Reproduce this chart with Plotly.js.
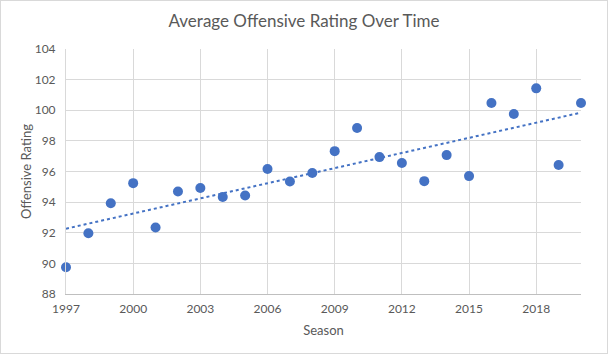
<!DOCTYPE html>
<html>
<head>
<meta charset="utf-8">
<script src="https://cdn.plot.ly/plotly-3.0.1.min.js"></script>
<style>
html,body{margin:0;padding:0;background:#fff;}
#chart{width:606px;height:352px;border:1px solid #d9d9d9;}
</style>
</head>
<body>
<div id="chart"></div>
<script>
const seasons = [1997,1998,1999,2000,2001,2002,2003,2004,2005,2006,2007,2008,2009,2010,2011,2012,2013,2014,2015,2016,2017,2018,2019,2020];
const ratings = [89.75,91.97,93.93,95.24,92.34,94.69,94.92,94.33,94.43,96.16,95.35,95.9,97.33,98.84,96.94,96.55,95.37,97.07,95.7,100.47,99.75,101.43,96.42,100.47];
const xTickVals = [1997,2000,2003,2006,2009,2012,2015,2018];
const yTickVals = [88,90,92,94,96,98,100,102,104];

// linear trendline (least squares) from the data
const n = seasons.length;
const mx = seasons.reduce((a,b)=>a+b,0)/n;
const my = ratings.reduce((a,b)=>a+b,0)/n;
let sxy=0, sxx=0;
for(let i=0;i<n;i++){sxy+=(seasons[i]-mx)*(ratings[i]-my);sxx+=(seasons[i]-mx)**2;}
const slope = sxy/sxx, icpt = my - slope*mx;
const trendX = [seasons[0], seasons[n-1]];
const trendY = trendX.map(x=>icpt+slope*x);

const font = "Lato, 'Open Sans', sans-serif";
const data = [
  {x: trendX, y: trendY, mode:'lines', type:'scatter',
   line:{color:'#4472C4', width:2, dash:'dot'}, hoverinfo:'skip', showlegend:false},
  {x: seasons, y: ratings, mode:'markers', type:'scatter', cliponaxis:false,
   marker:{color:'#4472C4', size:10}, showlegend:false}
];
const layout = {
  width:606, height:352,
  margin:{l:65, r:26, t:48, b:59},
  paper_bgcolor:'#fff', plot_bgcolor:'#fff',
  font:{family:font, color:'#595959', size:12},
  title:{text:'Average Offensive Rating Over Time', font:{family:font, size:17, color:'#595959'}, x:0.5, xanchor:'center', y:0.942, yanchor:'middle'},
  xaxis:{range:[1997,2020], tickvals:xTickVals, ticktext:xTickVals.map(String),
    showgrid:true, gridcolor:'#d9d9d9', gridwidth:1, zeroline:false,
    showline:true, linecolor:'#bfbfbf', linewidth:1, ticks:'', ticklabelstandoff:4,
    tickfont:{size:12, color:'#595959'},
    title:{text:'Season', font:{size:13, color:'#595959'}, standoff:10}},
  yaxis:{range:[88,104], tickvals:yTickVals,
    showgrid:true, gridcolor:'#d9d9d9', gridwidth:1, zeroline:false,
    showline:true, linecolor:'#d9d9d9', linewidth:1, ticks:'', ticklabelstandoff:7,
    tickfont:{size:12, color:'#595959'},
    title:{text:'Offensive Rating', font:{size:13, color:'#595959'}, standoff:0}}
};
Plotly.newPlot('chart', data, layout, {displayModeBar:false, staticPlot:true});
</script>
</body>
</html>
